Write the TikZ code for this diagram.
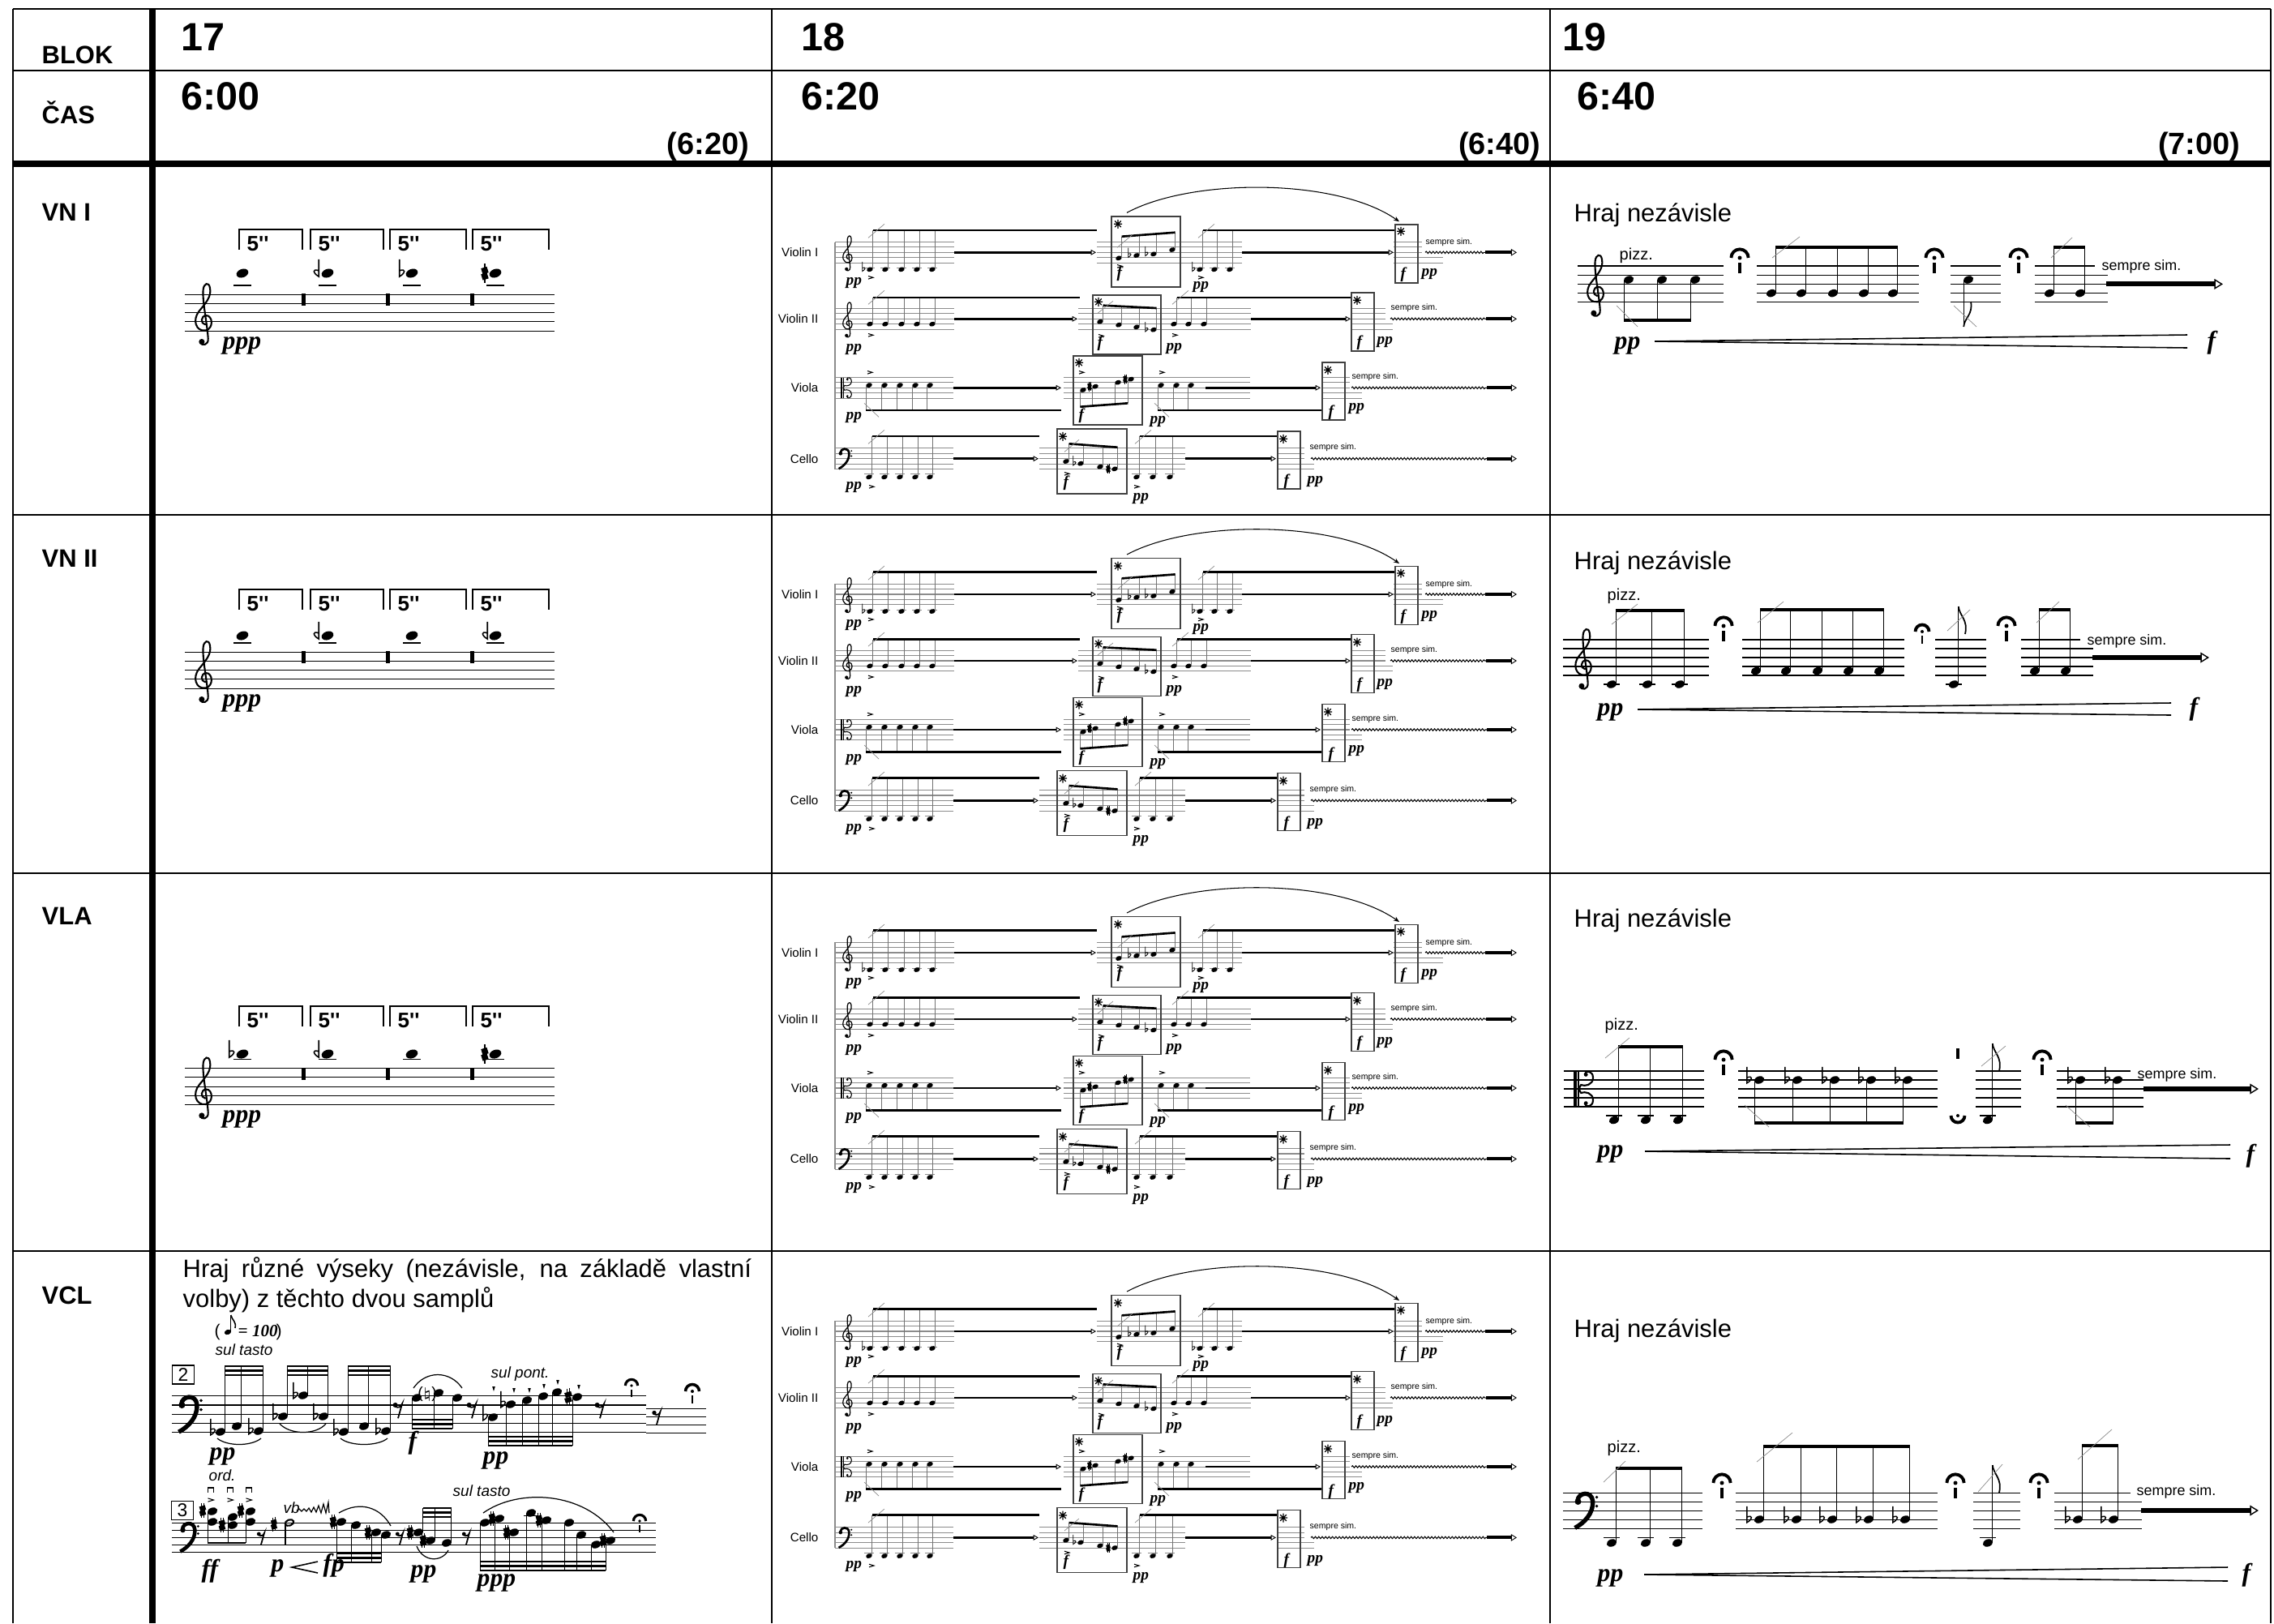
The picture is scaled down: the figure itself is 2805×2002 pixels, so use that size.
\documentclass[tikz,border=0pt]{standalone}
\usepackage{fontspec}
\setmainfont{Liberation Sans}
\newfontfamily\dynfamily{Liberation Serif}
\usetikzlibrary{arrows.meta,positioning,decorations.pathmorphing}

\tikzset{
  tline/.style={line width=0.77pt},
  heavyline/.style={line width=2.3pt},
  hdr/.style={inner sep=0pt, anchor=base west, font=\fontsize{8.8}{10}\selectfont\bfseries},
  blocknum/.style={inner sep=0pt, anchor=base west, font=\fontsize{13.8}{15}\selectfont\bfseries},
  endtime/.style={inner sep=0pt, anchor=base east, font=\fontsize{10.8}{12}\selectfont\bfseries},
  vtext/.style={inner sep=0pt, anchor=base west, font=\fontsize{8.8}{10}\selectfont},
  secs/.style={inner sep=0pt, anchor=base west, font=\fontsize{7.4}{8}\selectfont\bfseries\addfontfeature{Ligatures=TeXOff}},
  expr/.style={inner sep=0pt, anchor=base west, font=\fontsize{5.4}{6}\selectfont\itshape},
  tempotxt/.style={inner sep=0pt, anchor=base west, font=\fontsize{6}{7}\selectfont},
  pizz/.style={inner sep=0pt, anchor=base west, font=\fontsize{5.7}{6.5}\selectfont},
  sempre/.style={inner sep=0pt, anchor=base west, font=\fontsize{5.1}{6}\selectfont},
  msempre/.style={inner sep=0pt, anchor=base west, font=\fontsize{3}{3.5}\selectfont},
  mlabel/.style={inner sep=0pt, anchor=east, font=\fontsize{4.3}{5}\selectfont},
  dyn/.style={inner sep=0pt, anchor=base west, font=\dynfamily\fontsize{9}{10}\selectfont\bfseries\itshape},
  mdyn/.style={inner sep=0pt, anchor=base west, font=\dynfamily\fontsize{5.5}{6}\selectfont\bfseries\itshape},
  smpbox/.style={draw, line width=0.4pt, inner sep=0pt, minimum width=0.27cm, minimum height=0.23cm, font=\fontsize{6.5}{7}\selectfont},
  staffline/.style={line width=0.3pt},
  mstaffline/.style={line width=0.3pt, black!45},
  stem/.style={line width=0.3pt},
  mstem/.style={line width=0.25pt, black!55},
  beam/.style={line width=1.4pt},
  thinbeam/.style={line width=0.8pt},
  mbeam/.style={line width=0.75pt},
  slash/.style={line width=0.2pt, black!45},
  slur/.style={line width=0.35pt},
  bracketline/.style={line width=0.45pt},
  mbox/.style={line width=0.35pt, black!75},
  flow/.style={line width=0.7pt, -{Triangle[open, line width=0.25pt, length=1.8pt, width=1.9pt]}},
  flowend/.style={line width=1.1pt, -{Triangle[open, line width=0.25pt, length=2pt, width=2.4pt]}},
  bigflow/.style={line width=1.7pt, -{Triangle[open, line width=0.4pt, length=3pt, width=3.6pt]}},
  wavy/.style={line width=0.3pt, decorate, decoration={snake, amplitude=0.35pt, segment length=1.2pt}},
  hairpin/.style={line width=0.45pt},
  ferm/.style={scale=12.5, line width=1.1pt},
  pics/gclefsym/.style={code={
    \draw[line cap=round] (0.1,1.3) .. controls (-0.45,1.2) and (-0.4,0.35) .. (0.2,0.3)
      .. controls (0.95,0.3) and (1.05,1.75) .. (0.15,1.95)
      .. controls (-0.95,2.1) and (-1.35,0.75) .. (-0.55,-0.2)
      .. controls (0.05,-0.95) and (0.85,-1.75) .. (0.62,-2.75)
      .. controls (0.5,-3.45) and (-0.05,-3.25) .. (-0.12,-2.55)
      .. controls (-0.25,-1.4) and (0.35,1.4) .. (0.42,2.85)
      .. controls (0.48,3.6) and (-0.3,3.7) .. (-0.45,3.25);
    \fill (-0.28,3.2) circle (0.32);
  }},
  pics/fclefsym/.style={code={
    \fill (-0.5,-1) circle (0.36);
    \draw[line width=1.6\pgflinewidth] (-0.55,-1.1) .. controls (-0.5,-2.05) and (1.05,-2.25) .. (1.15,-1.05)
      .. controls (1.25,0.3) and (0.2,1.4) .. (-0.85,1.95);
    \fill (1.6,-1.5) circle (0.17);
    \fill (1.6,-0.5) circle (0.17);
  }},
  pics/cclefsym/.style={code={
    \fill (-1.15,-2) rectangle (-0.8,2);
    \draw (-0.6,-2) -- (-0.6,2);
    \draw (-0.6,0) -- (-0.35,-0.45) .. controls (0.1,-0.25) and (1.0,-0.45) .. (1.0,-1.25)
      .. controls (1.0,-2.05) and (0.15,-2.15) .. (0.05,-1.6);
    \draw (-0.6,0) -- (-0.35,0.45) .. controls (0.1,0.25) and (1.0,0.45) .. (1.0,1.25)
      .. controls (1.0,2.05) and (0.15,2.15) .. (0.05,1.6);
    \fill (0.2,-1.6) circle (0.22);
    \fill (0.2,1.6) circle (0.22);
  }},
  pics/flatsym/.style={code={
    \draw (-0.25,-1.9) -- (-0.25,0.45) .. controls (0.55,0.0) and (0.7,-0.7) .. (-0.25,-0.35);
  }},
  pics/qflatsym/.style={code={
    \draw (0.25,-1.9) -- (0.25,0.45) .. controls (-0.55,0.0) and (-0.7,-0.7) .. (0.25,-0.35);
  }},
  pics/sharpsym/.style={code={
    \draw (-0.22,-1.25) -- (-0.22,1.35) (0.22,-1.35) -- (0.22,1.25);
    \draw[line width=2.2\pgflinewidth] (-0.5,-0.25) -- (0.5,-0.55) (-0.5,0.6) -- (0.5,0.3);
  }},
  pics/qsharpsym/.style={code={
    \draw (0,-1.3) -- (0,1.3);
    \draw[line width=2.2\pgflinewidth] (-0.4,-0.25) -- (0.4,-0.5) (-0.4,0.55) -- (0.4,0.3);
  }},
  pics/fermsym/.style={code={
    \draw (-0.85,0) arc[start angle=180, end angle=360, radius=0.85];
    \fill (0,0) circle (0.2);
  }},
  pics/fermbarsym/.style={code={
    \draw (-0.85,0) arc[start angle=180, end angle=360, radius=0.85];
    \fill (0,0) circle (0.2);
    \fill (-0.14,0.5) rectangle (0.14,1.5);
  }},
  pics/restsym/.style={code={
    \fill (-0.3,-0.45) circle (0.27);
    \draw (-0.3,-0.3) .. controls (0,-0.1) and (0.3,-0.2) .. (0.45,-0.6) -- (0,1.0);
  }},
}

% note heads and small marks
\newcommand{\nhead}[2]{\fill[rotate around={20:(#1,#2)}] (#1,#2) ellipse [x radius=6.4, y radius=4.5];}
\newcommand{\nheadw}[2]{\fill[rotate around={20:(#1,#2)}] (#1,#2) ellipse [x radius=7.6, y radius=5.2];}
\newcommand{\nheadopen}[2]{\draw[line width=0.6pt, rotate around={20:(#1,#2)}] (#1,#2) ellipse [x radius=5.4, y radius=3.6];}
\newcommand{\mnhead}[2]{\fill[rotate around={20:(#1,#2)}] (#1,#2) ellipse [x radius=3.9, y radius=2.8];}
\newcommand{\accentmark}[3]{\draw[line width=0.3pt] (#1-#3,#2-0.6*#3) -- (#1+#3,#2) -- (#1-#3,#2+0.6*#3);}
\newcommand{\mstar}[2]{\draw[line width=0.35pt] (#1-5,#2) -- (#1+5,#2) (#1,#2-5.5) -- (#1,#2+5.5) (#1-3.8,#2-3.8) -- (#1+3.8,#2+3.8) (#1-3.8,#2+3.8) -- (#1+3.8,#2-3.8);}
\newcommand{\downbow}[2]{\draw[line width=0.35pt] (#1-3.5,#2+3) -- (#1-3.5,#2-3) -- (#1+3.5,#2-3) -- (#1+3.5,#2+3); \fill (#1-3.5,#2-3.8) rectangle (#1+3.5,#2-2);}
\newcommand{\drawstaff}[4]{\foreach \k in {0,...,4} \draw[staffline] (#1,{#3+\k*#4}) -- (#2,{#3+\k*#4});}
\newcommand{\mstaff}[3]{\foreach \k in {-2,...,2} \draw[mstaffline] (#1,{#3+\k*6.4}) -- (#2,{#3+\k*6.4});}

% block 17: four held tones of 5 seconds
\newcommand{\fivesec}[5]{%
  \drawstaff{228}{684}{#1}{11.2}
  \pic[scale=11.2, line width=0.6pt] at (252,{#1+22.4}) {gclefsym};
  \foreach \a/\b [count=\i] in {295/373,383/473,481/575,583/677} {
    \draw[bracketline] (\a,#2+25) -- (\a,#2) -- (\b,#2) -- (\b,#2+25);
    \node[secs] (sec\i-#5) at (\a+9,#2+26) {5''};
  }
  \foreach \x in {299,404,508,611} {\draw[staffline] (\x-11,#4) -- (\x+11,#4); \nheadw{\x}{#3}}
  \foreach \x in {374,478,582} \fill (\x-2.5,#1-1) rectangle (\x+2.5,#1+14);
  \node[dyn] (ppp-#5) at (274,#1+67) {ppp};
}

% block 18: the small quartet score
\newcommand{\miniscore}[2]{%
 \begin{scope}[shift={(0,#1)}]
  \node[mlabel] (vi-#2) at (1010,0) {Violin I};
  \node[mlabel] (vii-#2) at (1010,82) {Violin II};
  \node[mlabel] (vla-#2) at (1010,167) {Viola};
  \node[mlabel] (vc-#2) at (1010,254.4) {Cello};
  \draw[mstaffline] (1030,-12.8) -- (1030,267.2);
  % Violin I
  \mstaff{1030}{1177}{0}
  \mstaff{1353}{1532}{0}
  \foreach \k in {-2,-1,0} \draw[mstaffline] (1719,\k*6.4) -- (1754,\k*6.4);
  \foreach \k in {1,2} \draw[mstaffline] (1719,\k*6.4) -- (1780,\k*6.4);
  \pic[scale=6.4, line width=0.35pt] at (1046,0) {gclefsym};
  \pic[scale=5, line width=0.25pt] at (1065,21) {flatsym};
  \foreach \x in {1073,1092,1112,1131,1150} {\draw[mstaffline] (\x-6,19.2) -- (\x+6,19.2); \mnhead{\x}{21} \draw[mstem] (\x+3.6,21) -- (\x+3.6,-27.3);}
  \draw[mbeam] (1076.6,-27.3) -- (1353,-27.3);
  \draw[slash] (1071,-18) -- (1091,-35);
  \accentmark{1074}{31}{3}
  \node[mdyn] (vipp-#2) at (1043,40) {pp};
  \draw[flow] (1177,0) -- (1352,0);
  \draw[mbox] (1371,-44.3) rectangle (1456,42.7);
  \mstar{1379}{-35}
  \mnhead{1380}{7} \mnhead{1402}{3.7} \mnhead{1423}{2} \mnhead{1446}{-3.3}
  \pic[scale=5, line width=0.25pt] at (1393,3.7) {flatsym};
  \pic[scale=5, line width=0.25pt] at (1414,2) {flatsym};
  \draw[mstem] (1383.6,7) -- (1383.6,-19.6) (1405.6,3.7) -- (1405.6,-21.3) (1426.6,2) -- (1426.6,-22.9) (1449.6,-3.3) -- (1449.6,-24.6);
  \draw[mbeam] (1383.6,-19.6) -- (1449.6,-24.6);
  \draw[slash] (1378,-6) -- (1397,-22);
  \accentmark{1381}{17}{3}
  \node[mdyn] (vif1-#2) at (1377,31) {f};
  \pic[scale=5, line width=0.25pt] at (1472,21) {flatsym};
  \foreach \x in {1480,1498,1517} {\draw[mstaffline] (\x-6,19.2) -- (\x+6,19.2); \mnhead{\x}{21} \draw[mstem] (\x+3.6,21) -- (\x+3.6,-27.3);}
  \draw[mbeam] (1483.6,-27.3) -- (1721,-27.3);
  \draw[slash] (1478,-18) -- (1498,-35);
  \accentmark{1481}{31}{3}
  \node[mdyn] (vipp2-#2) at (1471,45) {pp};
  \draw[flow] (1532,0) -- (1719,0);
  \draw[mbox] (1721,-34.3) rectangle (1749,37.7);
  \mstar{1728}{-26}
  \node[mdyn] (vif2-#2) at (1727,32) {f};
  \node[mdyn] (vipp3-#2) at (1753,29) {pp};
  \node[msempre] (visem-#2) at (1758,-10) {sempre sim.};
  \draw[wavy] (1758,0) -- (1832,0);
  \draw[flowend] (1832,0) -- (1871,0);
  \coordinate (arcA-#2) at (1390,-49);
  \coordinate (arcB-#2) at (1726,-38);
  \draw[line width=0.3pt, -{Stealth[length=2pt, width=1.6pt]}] (arcA-#2) .. controls (1470,-92) and (1649,-92) .. (arcB-#2);
  % Violin II
  \mstaff{1030}{1177}{82}
  \mstaff{1330}{1543}{82}
  \foreach \k in {-2,-1,0} \draw[mstaffline] (1667,{82+\k*6.4}) -- (1709,{82+\k*6.4});
  \foreach \k in {1,2} \draw[mstaffline] (1667,{82+\k*6.4}) -- (1718,{82+\k*6.4});
  \pic[scale=6.4, line width=0.35pt] at (1046,82) {gclefsym};
  \foreach \x in {1073,1092,1112,1131,1150} {\mnhead{\x}{88.4} \draw[mstem] (\x+3.6,88.4) -- (\x+3.6,55.7);}
  \draw[mbeam] (1076.6,55.7) -- (1332,55.7);
  \draw[slash] (1071,64) -- (1091,47);
  \accentmark{1074}{102}{3}
  \node[mdyn] (viipp-#2) at (1043,122) {pp};
  \draw[flow] (1177,82) -- (1329,82);
  \draw[mbox] (1348,52.7) rectangle (1432,125.7);
  \mstar{1355}{61}
  \mnhead{1357}{85.4} \mnhead{1380}{89.4} \mnhead{1402}{92} \mnhead{1423}{95.4}
  \pic[scale=5, line width=0.25pt] at (1414,95.4) {flatsym};
  \draw[mstem] (1360.6,85.4) -- (1360.6,65.4) (1383.6,89.4) -- (1383.6,66.6) (1405.6,92) -- (1405.6,67.7) (1426.6,95.4) -- (1426.6,68.7);
  \draw[mbeam] (1360.6,65.4) -- (1426.6,68.7);
  \draw[slash] (1354,75) -- (1373,60);
  \accentmark{1358}{103}{3}
  \node[mdyn] (viif1-#2) at (1353,117) {f};
  \foreach \x in {1448,1466,1485} {\mnhead{\x}{88.4} \draw[mstem] (\x+3.6,88.4) -- (\x+3.6,55.7);}
  \draw[mbeam] (1451.6,55.7) -- (1668,55.7);
  \draw[slash] (1446,64) -- (1466,47);
  \accentmark{1449}{102}{3}
  \node[mdyn] (viipp2-#2) at (1438,121) {pp};
  \draw[flow] (1543,82) -- (1666,82);
  \draw[mbox] (1667,49.7) rectangle (1695,121.7);
  \mstar{1674}{59}
  \node[mdyn] (viif2-#2) at (1673,116) {f};
  \node[mdyn] (viipp3-#2) at (1698,113) {pp};
  \node[msempre] (viisem-#2) at (1715,71) {sempre sim.};
  \draw[wavy] (1715,82) -- (1833,82);
  \draw[flowend] (1833,82) -- (1871,82);
  % Viola
  \mstaff{1030}{1176}{167}
  \mstaff{1312}{1542}{167}
  \foreach \k in {-2,-1,0} \draw[mstaffline] (1631,{167+\k*6.4}) -- (1665,{167+\k*6.4});
  \foreach \k in {1,2} \draw[mstaffline] (1631,{167+\k*6.4}) -- (1680,{167+\k*6.4});
  \pic[scale=6.4, line width=0.3pt] at (1044,167) {cclefsym};
  \foreach \x in {1072,1091,1110,1129,1147} {\mnhead{\x}{163.8} \draw[mstem] (\x-3.6,163.8) -- (\x-3.6,194.7);}
  \draw[mbeam] (1068.4,194.7) -- (1309,194.7);
  \accentmark{1073}{148}{3}
  \draw[slash] (1066,186) -- (1084,203);
  \node[mdyn] (vlapp-#2) at (1043,206) {pp};
  \draw[flow] (1176,167) -- (1309,167);
  \draw[mbox] (1324,127.7) rectangle (1409,212.7);
  \mstar{1331}{136}
  \accentmark{1334}{148}{3}
  \mnhead{1336}{169.7} \mnhead{1351}{165.4} \mnhead{1379}{160.4} \mnhead{1395}{156.4}
  \pic[scale=4.5, line width=0.25pt] at (1344,165.4) {sharpsym};
  \pic[scale=4.5, line width=0.25pt] at (1388,156.4) {sharpsym};
  \draw[mstem] (1332.4,169.7) -- (1332.4,190.4) (1347.4,165.4) -- (1347.4,189.3) (1375.4,160.4) -- (1375.4,187.2) (1391.4,156.4) -- (1391.4,186);
  \draw[mbeam] (1332.4,190.4) -- (1391.4,186);
  \node[mdyn] (vlaf1-#2) at (1330,206) {f};
  \accentmark{1433}{148}{3}
  \foreach \x in {1432,1451,1469} {\mnhead{\x}{163.8} \draw[mstem] (\x-3.6,163.8) -- (\x-3.6,194.7);}
  \draw[mbeam] (1428.4,194.7) -- (1631,194.7);
  \draw[slash] (1424,186) -- (1442,203);
  \node[mdyn] (vlapp2-#2) at (1418,211) {pp};
  \draw[flow] (1487,167) -- (1629,167);
  \draw[mbox] (1631,135.7) rectangle (1659,206.7);
  \mstar{1638}{145}
  \node[mdyn] (vlaf2-#2) at (1638,202) {f};
  \node[mdyn] (vlapp3-#2) at (1663,195) {pp};
  \node[msempre] (vlasem-#2) at (1667,156) {sempre sim.};
  \draw[wavy] (1667,167) -- (1834,167);
  \draw[flowend] (1834,167) -- (1871,167);
  % Cello
  \mstaff{1030}{1176}{254.4}
  \mstaff{1282}{1462}{254.4}
  \foreach \k in {-2,-1,0} \draw[mstaffline] (1576,{254.4+\k*6.4}) -- (1609,{254.4+\k*6.4});
  \foreach \k in {1,2} \draw[mstaffline] (1576,{254.4+\k*6.4}) -- (1621,{254.4+\k*6.4});
  \pic[scale=6.4, line width=0.3pt] at (1040,254.4) {fclefsym};
  \foreach \x in {1072,1091,1110,1129,1147} {\draw[mstaffline] (\x-6,273.6) -- (\x+6,273.6); \mnhead{\x}{277} \draw[mstem] (\x+3.6,277) -- (\x+3.6,226.7);}
  \draw[mbeam] (1075.6,226.7) -- (1282,226.7);
  \draw[slash] (1071,236) -- (1091,219);
  \node[mdyn] (vcpp-#2) at (1043,292) {pp};
  \accentmark{1075}{289}{3}
  \draw[flow] (1176,254.4) -- (1281,254.4);
  \draw[mbox] (1304,217.7) rectangle (1390,297.7);
  \mstar{1311}{227}
  \mnhead{1315}{257.7} \mnhead{1333}{260.4} \mnhead{1357}{264.4} \mnhead{1375}{267}
  \pic[scale=5, line width=0.25pt] at (1325,260.4) {flatsym};
  \pic[scale=4.5, line width=0.25pt] at (1367,267) {sharpsym};
  \draw[mstem] (1318.6,257.7) -- (1318.6,236) (1336.6,260.4) -- (1336.6,237.3) (1360.6,264.4) -- (1360.6,239.1) (1378.6,267) -- (1378.6,240.4);
  \draw[mbeam] (1318.6,236) -- (1378.6,240.4);
  \draw[slash] (1313,246) -- (1331,231);
  \accentmark{1316}{273}{3}
  \node[mdyn] (vcf1-#2) at (1311,289) {f};
  \foreach \x in {1402,1422,1443} {\draw[mstaffline] (\x-6,273.6) -- (\x+6,273.6); \mnhead{\x}{277} \draw[mstem] (\x+3.6,277) -- (\x+3.6,226.7);}
  \draw[mbeam] (1405.6,226.7) -- (1576,226.7);
  \draw[slash] (1400,236) -- (1420,219);
  \accentmark{1402}{289}{3}
  \node[mdyn] (vcpp2-#2) at (1397,306) {pp};
  \draw[flow] (1462,254.4) -- (1574,254.4);
  \draw[mbox] (1576,220.7) rectangle (1604,291.7);
  \mstar{1583}{230}
  \node[mdyn] (vcf2-#2) at (1583,287) {f};
  \node[mdyn] (vcpp3-#2) at (1612,285) {pp};
  \node[msempre] (vcsem-#2) at (1615,243) {sempre sim.};
  \draw[wavy] (1617,254.4) -- (1834,254.4);
  \draw[flowend] (1834,254.4) -- (1871,254.4);
 \end{scope}}

\begin{document}
\begin{tikzpicture}[x=0.01cm, y=-0.01cm]
 \useasboundingbox (0,0) rectangle (2805,2002);
 \fill[white] (0,0) rectangle (2805,2002);

 % Table grid
 \draw[tline] (16,11) -- (2801,11);
 \draw[tline] (16,87) -- (2801,87);
 \draw[heavyline] (16,202) -- (2801,202);
 \foreach \y in {635,1077,1543} \draw[tline] (16,\y) -- (2801,\y);
 \foreach \x in {16,952,1912,2801} \draw[tline] (\x,11) -- (\x,2002);
 \draw[line width=2pt] (188,11) -- (188,2002);

 % Header rows
 \node[hdr] (blok) at (51,78) {BLOK};
 \node[hdr] (cas) at (51,152) {ČAS};
 \node[blocknum] (b17) at (223,62) {17};
 \node[blocknum] (t17) at (223,135) {6:00};
 \node[endtime] (e17) at (925,190) {(6:20)};
 \node[blocknum] (b18) at (988,62) {18};
 \node[blocknum] (t18) at (988,135) {6:20};
 \node[endtime] (e18) at (1901,190) {(6:40)};
 \node[blocknum] (b19) at (1927,62) {19};
 \node[blocknum] (t19) at (1945,135) {6:40};
 \node[endtime] (e19) at (2764,190) {(7:00)};

 % Instrument rows
 \node[hdr] (vn1) at (51,272) {VN I};
 \node[hdr] (vn2) at (51,699) {VN II};
 \node[hdr] (vla) at (51,1140) {VLA};
 \node[hdr] (vcl) at (51,1608) {VCL};

 % Block 17 - held tones
 \fivesec{363.3}{283}{337}{352}{a}
 \pic[scale=9, line width=0.45pt] at (391,337) {qflatsym};
 \pic[scale=9, line width=0.45pt] at (495,337) {flatsym};
 \pic[scale=9, line width=0.45pt] at (598,337) {qsharpsym};
 \fivesec{804.3}{727}{784}{793}{b}
 \pic[scale=9, line width=0.45pt] at (391,784) {qflatsym};
 \pic[scale=9, line width=0.45pt] at (599,784) {qflatsym};
 \fivesec{1317.7}{1241}{1300}{1306.7}{c}
 \pic[scale=9, line width=0.45pt] at (285,1300) {flatsym};
 \pic[scale=9, line width=0.45pt] at (391,1300) {qflatsym};
 \pic[scale=9, line width=0.45pt] at (598,1300) {qsharpsym};

 % Block 17 - cello samples
 \node[vtext] (vcltext1) at (225,1575) {\makebox[7.01cm][s]{Hraj různé výseky (nezávisle, na základě vlastní}};
 \node[vtext] (vcltext2) at (225,1612) {volby) z těchto dvou samplů};
 \node[tempotxt] (tempoL) at (264,1648) {(};
 \fill[rotate around={20:(281,1643)}] (281,1643) ellipse [x radius=4.3, y radius=3];
 \draw[stem] (284.8,1643) -- (284.8,1622);
 \draw[line width=0.45pt] (284.8,1622) .. controls (286,1628) and (292,1630) .. (290,1638);
 \node[tempotxt] (tempoR) at (293,1648) {\dynfamily\bfseries\itshape = 100};
 \node[tempotxt] (tempoP) at (340,1648) {)};
 \node[expr] (tasto1) at (265,1671) {sul tasto};
 \node[smpbox] (smp2) at (226,1695.5) {2};
 \drawstaff{212}{797}{1721.7}{11.25}
 \foreach \k in {1,...,4} \draw[staffline] (797,{1727+\k*10}) -- (871,{1727+\k*10});
 \pic[scale=11.25, line width=0.6pt] at (230,1744.2) {fclefsym};
 \foreach \x/\y in {272/1766,292/1759,319/1765,349/1747,374/1721,399/1747,424/1766,449/1759,476/1765} {\nhead{\x}{\y} \draw[stem] (\x+5.6,\y) -- (\x+5.6,1684);}
 \foreach \a/\b in {277.6/324.6,354.6/404.6,429.6/481.6} {\foreach \yy in {1685,1690.5,1696} \draw[thinbeam] (\a,\yy) -- (\b,\yy);}
 \foreach \x/\y in {262/1766,309/1765,339/1747,364/1721,389/1747,414/1766,466/1765} \pic[scale=8.5, line width=0.4pt] at (\x,\y) {flatsym};
 \draw[slur] (268,1774) .. controls (280,1784) and (310,1784) .. (322,1774);
 \draw[slur] (345,1756) .. controls (358,1770) and (390,1770) .. (402,1756);
 \draw[slur] (420,1774) .. controls (432,1784) and (466,1784) .. (478,1774);
 \node[dyn] (pp2a) at (258,1800) {pp};
 \pic[scale=11.25, line width=0.5pt] at (491,1738) {restsym};
 \foreach \x/\y in {514/1724,541/1718,564/1724} {\nhead{\x}{\y} \draw[stem] (\x-5.6,\y) -- (\x-5.6,1762);}
 \foreach \yy in {1751,1756.5,1762} \draw[thinbeam] (508.4,\yy) -- (558.4,\yy);
 \node[inner sep=0pt, font=\fontsize{5.5}{6}\selectfont] (natp) at (527,1719) {($\natural$)};
 \draw[slur] (510,1712) .. controls (525,1690) and (555,1690) .. (570,1712);
 \node[dyn] (f2) at (503,1787) {f};
 \pic[scale=11.25, line width=0.5pt] at (582,1738) {restsym};
 \node[expr] (pont) at (605,1699) {sul pont.};
 \foreach \x/\y in {608/1748,630/1732,650/1727,670/1722,687/1717,712/1723} {\nhead{\x}{\y} \draw[stem] (\x-5.6,\y) -- (\x-5.6,1783);}
 \foreach \yy in {1772,1777.5,1783} \draw[thinbeam] (602.4,\yy) -- (706.4,\yy);
 \pic[scale=8.5, line width=0.4pt] at (598,1748) {flatsym};
 \pic[scale=8.5, line width=0.4pt] at (620,1732) {flatsym};
 \pic[scale=8, line width=0.35pt] at (701,1723) {sharpsym};
 \foreach \x/\y in {609/1714,634/1716,653/1716,671/1711,688/1706,714/1712} \fill (\x-1.8,\y-4) -- (\x+1.8,\y-4) -- (\x,\y+2) -- cycle;
 \node[dyn] (pp2b) at (595,1805) {pp};
 \pic[scale=11.25, line width=0.5pt] at (740,1738) {restsym};
 \pic[scale=9, line width=0.9pt] at (779,1709) {fermbarsym};
 \pic[scale=10, line width=0.5pt] at (810,1747) {restsym};
 \pic[scale=10, line width=1pt] at (854,1716) {fermbarsym};

 \node[expr] (ord) at (257,1826) {ord.};
 \node[smpbox] (smp3) at (225,1863) {3};
 \drawstaff{212}{809}{1878}{9}
 \pic[scale=9, line width=0.5pt] at (230,1896) {fclefsym};
 \foreach \x in {262,309} {\nhead{\x}{1864} \nhead{\x}{1877} \draw[stem] (\x-5.6,1864) -- (\x-5.6,1903);}
 \nhead{287}{1871} \nhead{287}{1881} \draw[stem] (281.4,1871) -- (281.4,1903);
 \draw[thinbeam] (256.4,1903) -- (303.4,1903);
 \pic[scale=7, line width=0.35pt] at (250,1863) {sharpsym};
 \pic[scale=7, line width=0.35pt] at (274,1881) {sharpsym};
 \pic[scale=7, line width=0.35pt] at (297,1863) {sharpsym};
 \foreach \x in {260,284,307} {\accentmark{\x}{1850}{3.5} \downbow{\x}{1838}}
 \node[dyn] (ff3) at (248,1945) {ff};
 \pic[scale=9, line width=0.5pt] at (322,1896) {restsym};
 \pic[scale=6.5, line width=0.35pt] at (338,1880) {sharpsym};
 \nheadopen{357}{1878} \draw[stem] (352,1878) -- (352,1906);
 \node[expr] (vb) at (349,1866) {vb};
 \draw[line width=0.35pt] (366,1863) -- (369,1861) -- (372,1864) -- (375,1861) -- (378,1864) -- (381,1860) -- (384,1865) -- (387,1859) -- (390,1865) -- (393,1857) -- (396,1866) -- (399,1855) -- (402,1866) -- (405,1853) -- (406,1866);
 \node[dyn] (p3) at (334,1938) {p};
 \draw[hairpin] (392,1926) -- (360,1933) -- (392,1940);
 \node[dyn] (fp3) at (398,1938) {fp};
 \foreach \x/\y in {421/1877,439/1881,464/1890,476/1893} {\nhead{\x}{\y} \draw[stem] (\x-5.6,\y) -- (\x-5.6,1927);}
 \foreach \yy in {1916,1921.5,1927} \draw[thinbeam] (415.4,\yy) -- (470.4,\yy);
 \pic[scale=7, line width=0.35pt] at (411,1877) {sharpsym};
 \pic[scale=7, line width=0.35pt] at (454,1890) {sharpsym};
 \draw[slur] (418,1866) .. controls (445,1850) and (470,1860) .. (482,1882);
 \pic[scale=9, line width=0.5pt] at (493,1896) {restsym};
 \foreach \x/\y in {516/1890,531/1900,551/1903} {\nhead{\x}{\y} \draw[stem] (\x+5.6,\y) -- (\x+5.6,1860);}
 \foreach \yy in {1860,1865.5,1871} \draw[thinbeam] (521.6,\yy) -- (556.6,\yy);
 \pic[scale=7, line width=0.35pt] at (506,1890) {sharpsym};
 \pic[scale=7, line width=0.35pt] at (522,1900) {sharpsym};
 \draw[slur] (514,1907) .. controls (522,1927) and (545,1927) .. (553,1912);
 \node[dyn] (pp3) at (506,1945) {pp};
 \node[expr] (tasto2) at (558,1845) {sul tasto};
 \pic[scale=9, line width=0.5pt] at (575,1896) {restsym};
 \foreach \x/\y in {598/1878,616/1873,634/1890,655/1866,674/1875,702/1878,717/1893,735/1905,753/1900} {\nhead{\x}{\y} \draw[stem] (\x-5.6,\y) -- (\x-5.6,1937);}
 \foreach \yy in {1926,1931.5,1937} \draw[thinbeam] (592.4,\yy) -- (747.4,\yy);
 \draw[staffline] (646,1869) -- (664,1869);
 \foreach \x/\y in {607/1873,625/1890,665/1875,744/1900} \pic[scale=7, line width=0.35pt] at (\x,\y) {sharpsym};
 \draw[slur] (596,1866) .. controls (640,1835) and (720,1840) .. (757,1890);
 \node[dyn] (ppp3) at (588,1956) {ppp};
 \pic[scale=9, line width=0.9pt] at (789,1876) {fermbarsym};

 % Block 18 - quartet excerpt in every row
 \miniscore{311.3}{a}
 \miniscore{733}{b}
 \miniscore{1175}{c}
 \miniscore{1642}{d}

 % Block 19 - VN I
 \node[vtext] (hraj1) at (1941,273) {Hraj nezávisle};
 \drawstaff{1946}{2126}{328}{11.2}
 \drawstaff{2167}{2367}{328}{11.2}
 \drawstaff{2406}{2468}{328}{11.2}
 \draw[staffline] (2510,328) -- (2584,328);
 \foreach \k in {1,...,4} \draw[staffline] (2510,{328+\k*11.2}) -- (2600,{328+\k*11.2});
 \pic[scale=11.2, line width=0.6pt] at (1969,350.4) {gclefsym};
 \node[pizz] (pizz1) at (1997,320) {pizz.};
 \foreach \x in {2009,2050,2091} {\nhead{\x}{345} \draw[stem] (\x-5.8,345) -- (\x-5.8,397);}
 \draw[beam] (2003.2,395) -- (2085.2,395);
 \draw[slash] (1994,377) -- (2020,403);
 \pic[ferm] at (2146,318) {fermbarsym};
 \foreach \x in {2185,2222,2261,2299,2335} {\nhead{\x}{361.6} \draw[stem] (\x+5.8,361.6) -- (\x+5.8,303);}
 \draw[beam] (2190.8,305) -- (2340.8,305);
 \draw[slash] (2186,318) -- (2220,292);
 \pic[ferm] at (2386,318) {fermbarsym};
 \nhead{2428}{345} \draw[stem] (2422.2,345) -- (2422.2,403);
 \draw[line width=0.5pt] (2422.2,403) .. controls (2423,392) and (2434,388) .. (2431,372);
 \draw[slash] (2410,377) -- (2438,403);
 \pic[ferm] at (2490,318) {fermbarsym};
 \foreach \x in {2528,2566} {\nhead{\x}{361.6} \draw[stem] (\x+5.8,361.6) -- (\x+5.8,303);}
 \draw[beam] (2533.8,305) -- (2571.8,305);
 \draw[slash] (2530,318) -- (2556,293);
 \node[sempre] (sem1) at (2592,333) {sempre sim.};
 \draw[bigflow] (2598,350.4) -- (2742,350.4);
 \node[dyn] (pp19a) at (1991,430) {pp};
 \draw[hairpin] (2698,413) -- (2041,421) -- (2698,429);
 \node[dyn] (f19a) at (2722,430) {f};

 % Block 19 - VN II
 \node[vtext] (hraj2) at (1941,702) {Hraj nezávisle};
 \drawstaff{1928}{2108}{789}{11}
 \drawstaff{2149}{2349}{789}{11}
 \drawstaff{2387}{2450}{789}{11}
 \draw[staffline] (2493,789) -- (2566,789);
 \foreach \k in {1,...,4} \draw[staffline] (2493,{789+\k*11}) -- (2582,{789+\k*11});
 \pic[scale=11, line width=0.6pt] at (1954,811) {gclefsym};
 \node[pizz] (pizz2) at (1982,740) {pizz.};
 \foreach \x in {1988,2032,2072} {\draw[staffline] (\x-10,844) -- (\x+10,844); \nhead{\x}{844} \draw[stem] (\x+5.8,844) -- (\x+5.8,751);}
 \draw[beam] (1993.8,753) -- (2077.8,753);
 \draw[slash] (1988,770) -- (2020,745);
 \pic[ferm] at (2126,772) {fermbarsym};
 \foreach \x in {2166,2203,2242,2280,2318} {\nhead{\x}{827.5} \draw[stem] (\x+5.8,827.5) -- (\x+5.8,750);}
 \draw[beam] (2171.8,752) -- (2323.8,752);
 \draw[slash] (2168,768) -- (2200,742);
 \pic[scale=10, line width=1.1pt] at (2371,779) {fermbarsym};
 \draw[staffline] (2400,844) -- (2420,844);
 \nhead{2410}{844} \draw[stem] (2415.8,844) -- (2415.8,748);
 \draw[line width=0.5pt] (2415.8,748) .. controls (2417,760) and (2428,764) .. (2424,782);
 \draw[slash] (2402,778) -- (2430,752);
 \pic[ferm] at (2475,772) {fermbarsym};
 \foreach \x in {2510,2548} {\nhead{\x}{827.5} \draw[stem] (\x+5.8,827.5) -- (\x+5.8,750);}
 \draw[beam] (2515.8,752) -- (2553.8,752);
 \draw[slash] (2512,768) -- (2540,742);
 \node[sempre] (sem2) at (2574,795) {sempre sim.};
 \draw[bigflow] (2581,811) -- (2725,811);
 \node[dyn] (pp19b) at (1970,882) {pp};
 \draw[hairpin] (2678,867) -- (2020,875) -- (2678,882);
 \node[dyn] (f19b) at (2700,882) {f};

 % Block 19 - VLA
 \node[vtext] (hraj3) at (1941,1143) {Hraj nezávisle};
 \drawstaff{1929}{2102}{1321}{11}
 \drawstaff{2144}{2390}{1321}{11}
 \drawstaff{2437}{2493}{1321}{11}
 \draw[staffline] (2537,1321) -- (2628,1321);
 \foreach \k in {1,...,4} \draw[staffline] (2537,{1321+\k*11}) -- (2644,{1321+\k*11});
 \pic[scale=11, line width=0.6pt] at (1954,1343) {cclefsym};
 \node[pizz] (pizz3) at (1979,1270) {pizz.};
 \foreach \x in {1991,2030,2070} {\draw[staffline] (\x-10,1376) -- (\x+10,1376); \nhead{\x}{1381.5} \draw[stem] (\x+5.8,1381.5) -- (\x+5.8,1289);}
 \draw[beam] (1996.8,1291) -- (2075.8,1291);
 \draw[slash] (1980,1305) -- (2010,1280);
 \pic[ferm] at (2126,1307) {fermbarsym};
 \foreach \x in {2170,2217,2263,2308,2353} {\pic[scale=8.5, line width=0.4pt] at (\x-13,1332) {flatsym}; \nhead{\x}{1332} \draw[stem] (\x-5.8,1332) -- (\x-5.8,1387);}
 \draw[beam] (2164.2,1385) -- (2347.2,1385);
 \draw[slash] (2152,1363) -- (2182,1390);
 \fill (2413,1293) rectangle (2417,1306);
 \pic[scale=10, yscale=-1, line width=1.1pt] at (2415,1376) {fermsym};
 \draw[staffline] (2442,1376) -- (2462,1376);
 \nhead{2452}{1381.5} \draw[stem] (2457.8,1381.5) -- (2457.8,1287);
 \draw[line width=0.5pt] (2457.8,1287) .. controls (2459,1299) and (2470,1303) .. (2466,1321);
 \draw[slash] (2444,1315) -- (2474,1290);
 \pic[ferm] at (2519,1307) {fermbarsym};
 \foreach \x in {2566,2612} {\pic[scale=8.5, line width=0.4pt] at (\x-13,1332) {flatsym}; \nhead{\x}{1332} \draw[stem] (\x-5.8,1332) -- (\x-5.8,1387);}
 \draw[beam] (2560.2,1385) -- (2606.2,1385);
 \draw[slash] (2548,1363) -- (2578,1390);
 \node[sempre] (sem3) at (2636,1330) {sempre sim.};
 \draw[bigflow] (2644,1343) -- (2786,1343);
 \node[dyn] (pp19c) at (1970,1427) {pp};
 \draw[hairpin] (2751,1412) -- (2029,1420) -- (2751,1429);
 \node[dyn] (f19c) at (2770,1433) {f};

 % Block 19 - VCL
 \node[vtext] (hraj4) at (1941,1649) {Hraj nezávisle};
 \drawstaff{1928}{2100}{1841}{11}
 \drawstaff{2141}{2390}{1841}{11}
 \drawstaff{2434}{2492}{1841}{11}
 \draw[staffline] (2534,1841) -- (2628,1841);
 \foreach \k in {1,...,4} \draw[staffline] (2534,{1841+\k*11}) -- (2642,{1841+\k*11});
 \pic[scale=11, line width=0.6pt] at (1952,1863) {fclefsym};
 \node[pizz] (pizz4) at (1982,1791) {pizz.};
 \foreach \x in {1988,2030,2069} {\draw[staffline] (\x-10,1896) -- (\x+10,1896); \nhead{\x}{1903} \draw[stem] (\x+5.8,1903) -- (\x+5.8,1809);}
 \draw[beam] (1993.8,1811) -- (2074.8,1811);
 \draw[slash] (1978,1828) -- (2005,1802);
 \pic[ferm] at (2124,1829) {fermbarsym};
 \foreach \x in {2170,2216,2260,2305,2350} {\pic[scale=8.5, line width=0.4pt] at (\x-13,1874) {flatsym}; \nhead{\x}{1874} \draw[stem] (\x+5.8,1874) -- (\x+5.8,1782);}
 \draw[beam] (2175.8,1784) -- (2355.8,1784);
 \draw[slash] (2167,1803) -- (2211,1767);
 \pic[ferm] at (2412,1829) {fermbarsym};
 \draw[staffline] (2442,1896) -- (2462,1896);
 \nhead{2452}{1903} \draw[stem] (2457.8,1903) -- (2457.8,1807);
 \draw[line width=0.5pt] (2457.8,1807) .. controls (2459,1819) and (2470,1823) .. (2466,1841);
 \draw[slash] (2440,1840) -- (2470,1806);
 \pic[ferm] at (2515,1829) {fermbarsym};
 \foreach \x in {2563,2607} {\pic[scale=8.5, line width=0.4pt] at (\x-13,1874) {flatsym}; \nhead{\x}{1874} \draw[stem] (\x+5.8,1874) -- (\x+5.8,1781);}
 \draw[beam] (2568.8,1783) -- (2612.8,1783);
 \draw[slash] (2563,1800) -- (2605,1763);
 \node[sempre] (sem4) at (2635,1844) {sempre sim.};
 \draw[bigflow] (2641,1863) -- (2786,1863);
 \node[dyn] (pp19d) at (1970,1950) {pp};
 \draw[hairpin] (2748,1933) -- (2028,1942) -- (2748,1950);
 \node[dyn] (f19d) at (2765,1950) {f};
\end{tikzpicture}
\end{document}
